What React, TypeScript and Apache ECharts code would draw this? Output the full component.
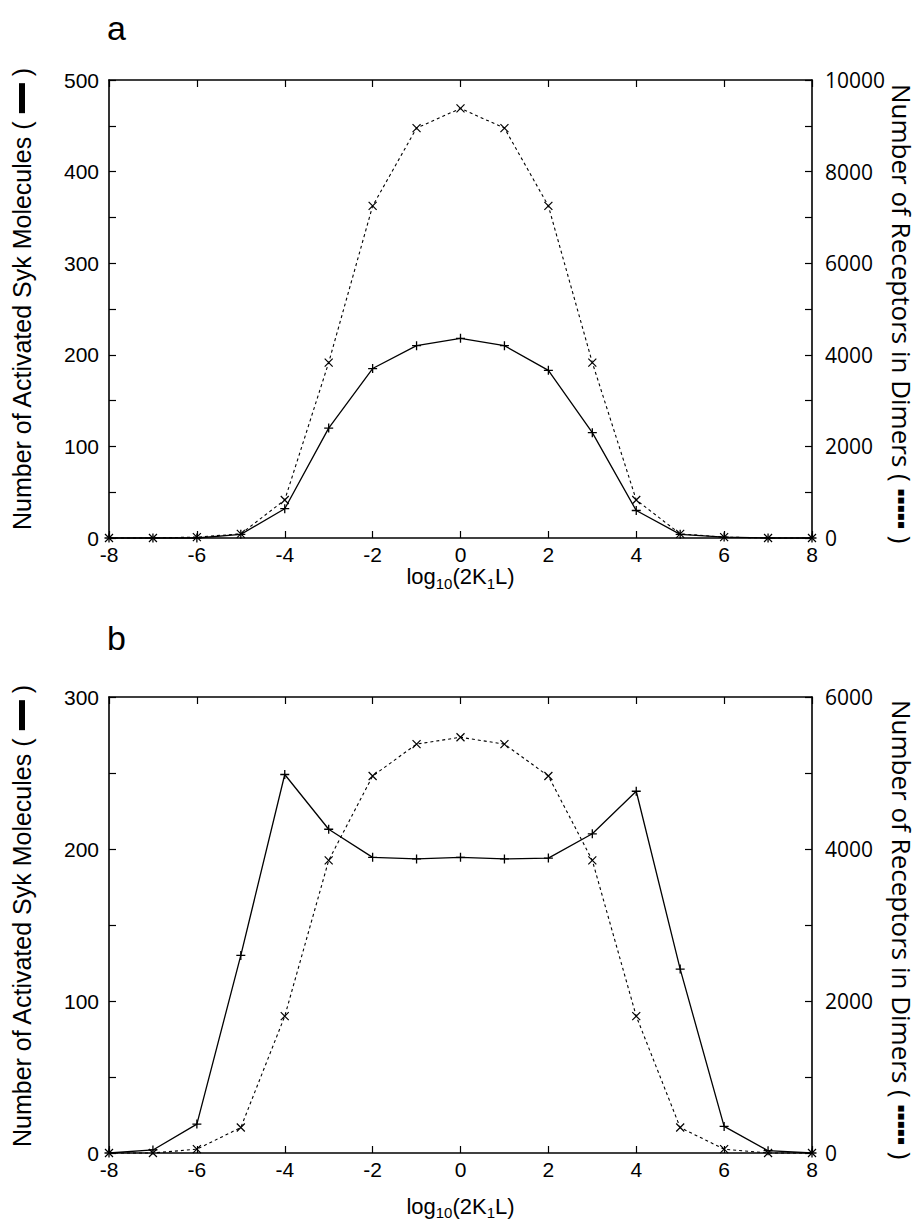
import React, { useEffect, useRef } from "react";
import * as echarts from "echarts";

// x values: log10(2K1L)
const xValues = [-8, -7, -6, -5, -4, -3, -2, -1, 0, 1, 2, 3, 4, 5, 6, 7, 8];

// Panel a
const aSyk = [0, 0, 0, 4, 32, 120, 185, 210, 218, 210, 183, 115, 30, 4, 1, 0, 0];
const aDimers = [0, 0, 20, 90, 830, 3830, 7250, 8950, 9380, 8950, 7250, 3830, 830, 90, 20, 0, 0];

// Panel b
const bSyk = [0, 2, 19, 130, 249, 213, 194.5, 193.5, 194.5, 193.5, 194, 210, 238, 121, 17.5, 1.5, 0];
const bDimers = [0, 0, 50, 335, 1800, 3850, 4960, 5380, 5470, 5380, 4960, 3850, 1800, 335, 50, 0, 0];

const xTicks = { min: -8, max: 8, interval: 2 };
const leftMax = [500, 300];
const rightMax = [10000, 6000];
const panelLabels = ["a", "b"];
const leftName = "Number of Activated Syk Molecules";
const rightName = "Number of Receptors in Dimers";
const xName = "log{sub|10}(2K{sub|1}L)";

const FONT_L = '"Liberation Sans", Arial, Helvetica, sans-serif';
const FONT_R = '"Open Sans", "Noto Sans", sans-serif';

const PLUS = "path://M0,5L10,5M5,0L5,10";
const CROSS = "path://M0,0L10,10M10,0L0,10";

const toPairs = (ys: number[]) => xValues.map((x, i) => [x, ys[i]]);

export default function App() {
  const ref = useRef<HTMLDivElement>(null);
  useEffect(() => {
    document.body.style.margin = "0";
    if (!ref.current) return;
    const chart = echarts.init(ref.current, null, { renderer: "svg" });

    const grids = [
      { left: 109, right: 108, top: 80, height: 458 },
      { left: 109, right: 108, top: 697, height: 458 },
    ];
    const nameGaps = [24, 39];

    const axisLine = { show: true, onZero: false, lineStyle: { color: "#000", width: 1.6 } };
    const axisTick = { inside: true, length: 7, lineStyle: { color: "#000", width: 1.2 } };
    const minorTick = { show: true, splitNumber: 2, length: 7, lineStyle: { color: "#000", width: 1.2 } };
    const plain = (v: number) => String(v);

    const xAxis: any[] = [];
    const yAxis: any[] = [];
    grids.forEach((_, g) => {
      xAxis.push({
        gridIndex: g,
        type: "value",
        ...xTicks,
        position: "bottom",
        axisLine,
        axisTick,
        splitLine: { show: false },
        axisLabel: { margin: 6, fontSize: 21, color: "#000", fontFamily: FONT_L, formatter: plain },
        name: xName,
        nameLocation: "middle",
        nameGap: nameGaps[g],
        nameTextStyle: {
          fontSize: 22,
          fontFamily: FONT_L,
          color: "#000",
          rich: { sub: { fontSize: 15, fontFamily: FONT_L, color: "#000", padding: [13, 0, 0, 0] } },
        },
      });
      xAxis.push({
        gridIndex: g,
        type: "value",
        ...xTicks,
        position: "top",
        axisLine,
        axisTick,
        splitLine: { show: false },
        axisLabel: { show: false },
      });
      yAxis.push({
        gridIndex: g,
        type: "value",
        min: 0,
        max: leftMax[g],
        interval: 100,
        position: "left",
        axisLine,
        axisTick,
        minorTick,
        splitLine: { show: false },
        minorSplitLine: { show: false },
        axisLabel: { margin: 10, fontSize: 21, color: "#000", fontFamily: FONT_L, formatter: plain },
      });
      yAxis.push({
        gridIndex: g,
        type: "value",
        min: 0,
        max: rightMax[g],
        interval: 2000,
        position: "right",
        axisLine,
        axisTick,
        minorTick,
        splitLine: { show: false },
        minorSplitLine: { show: false },
        axisLabel: { margin: 13, fontSize: 21, color: "#000", fontFamily: FONT_R, formatter: plain },
      });
    });

    const solid = (data: number[], g: number) => ({
      type: "line",
      xAxisIndex: g * 2,
      yAxisIndex: g * 2,
      data: toPairs(data),
      symbol: PLUS,
      symbolSize: 9,
      showAllSymbol: true,
      clip: false,
      silent: true,
      lineStyle: { color: "#000", width: 1.3 },
      itemStyle: { color: "transparent", borderColor: "#000", borderWidth: 1.3 },
      emphasis: { disabled: true },
      z: 3,
    });
    const dotted = (data: number[], g: number) => ({
      type: "line",
      xAxisIndex: g * 2,
      yAxisIndex: g * 2 + 1,
      data: toPairs(data),
      symbol: CROSS,
      symbolSize: 8,
      showAllSymbol: true,
      clip: false,
      silent: true,
      lineStyle: { color: "#000", width: 1.1, type: [3, 3] },
      itemStyle: { color: "transparent", borderColor: "#000", borderWidth: 1.2 },
      emphasis: { disabled: true },
      z: 3,
    });

    const graphic: any[] = [];
    const labelY = [28, 638];
    const leftStart = [530, 1147];
    const rightStart = [84, 700];
    grids.forEach((_, g) => {
      graphic.push({
        type: "text",
        x: 107,
        y: labelY[g],
        style: {
          text: panelLabels[g],
          fontSize: 34,
          fontFamily: FONT_L,
          fill: "#000",
          align: "left",
          verticalAlign: "middle",
        },
      });
      graphic.push({
        type: "text",
        x: 22,
        y: leftStart[g],
        rotation: Math.PI / 2,
        style: {
          text: leftName + " ( {bar| } )",
          fontSize: 25,
          fontFamily: FONT_L,
          fill: "#000",
          align: "left",
          verticalAlign: "middle",
          rich: { bar: { width: 30, height: 6, backgroundColor: "#000", fontSize: 5 } },
        },
      });
      graphic.push({
        type: "text",
        x: 902,
        y: rightStart[g],
        rotation: -Math.PI / 2,
        style: {
          text: rightName + " ( {dots|▪▪▪▪▪} )",
          fontSize: 26,
          fontFamily: FONT_R,
          fill: "#000",
          align: "left",
          verticalAlign: "middle",
          rich: { dots: { fontSize: 12, fontFamily: "DejaVu Sans", fill: "#000", color: "#000" } },
        },
      });
    });

    chart.setOption({
      animation: false,
      backgroundColor: "#fff",
      grid: grids,
      xAxis,
      yAxis,
      series: [solid(aSyk, 0), dotted(aDimers, 0), solid(bSyk, 1), dotted(bDimers, 1)],
      graphic,
    });
    return () => chart.dispose();
  }, []);
  return <div ref={ref} style={{ width: 920, height: 1221 }} />;
}
